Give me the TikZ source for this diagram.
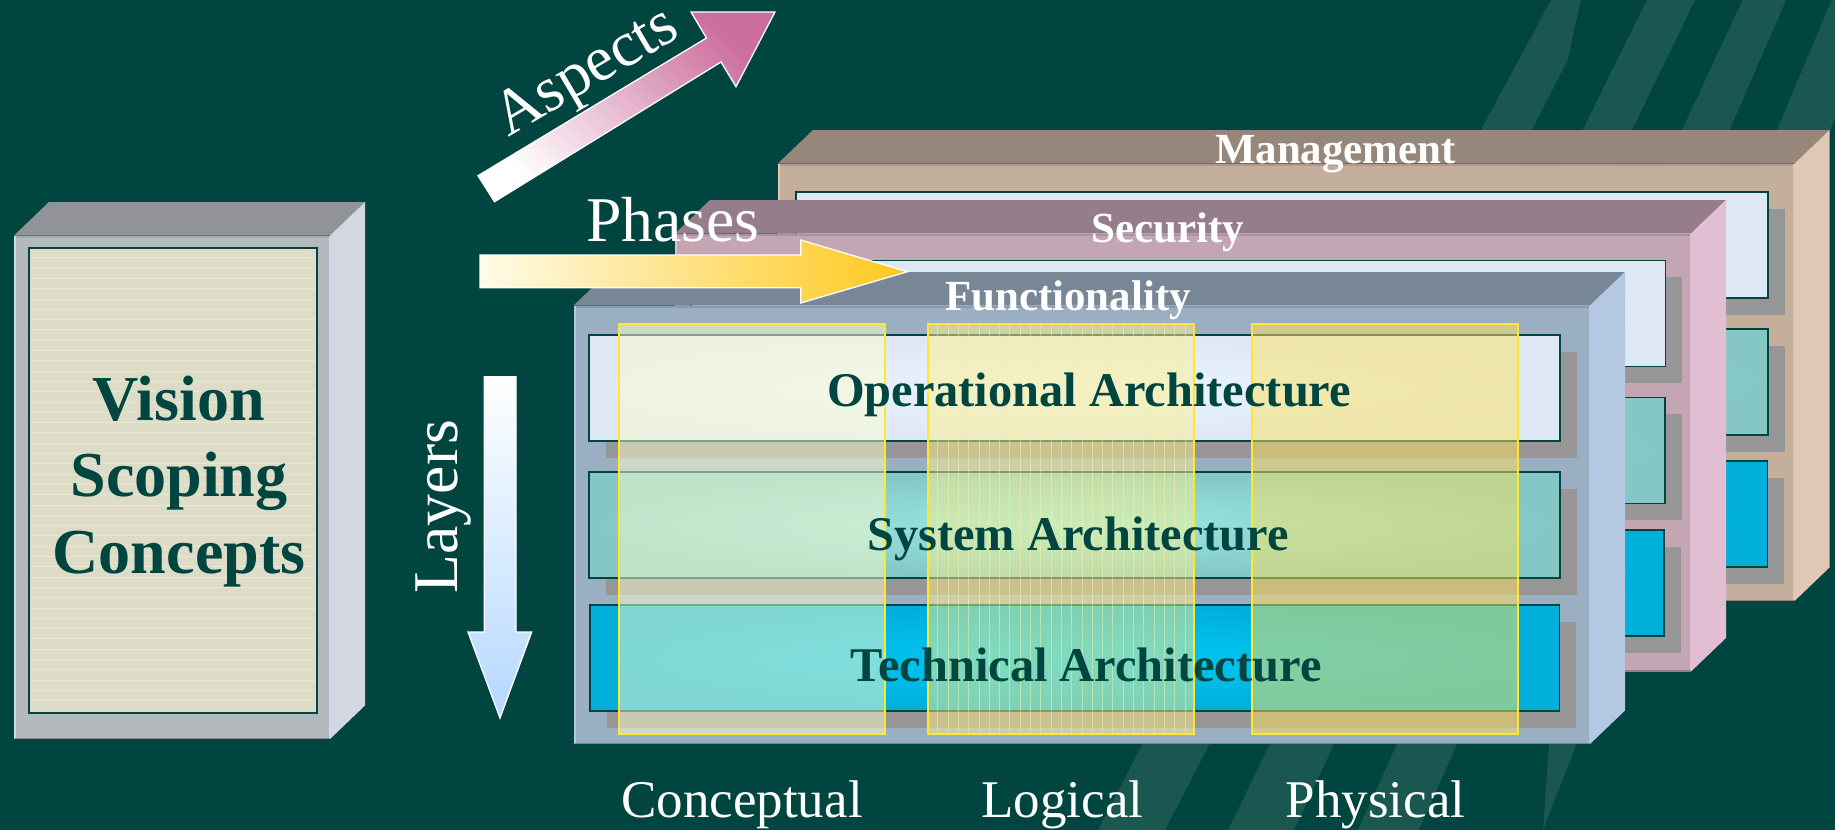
\documentclass[tikz,border=0pt]{standalone}
\usepackage{fontspec}
\setmainfont{Liberation Serif}
\definecolor{bgc}{HTML}{00453F}
\definecolor{stripec}{HTML}{1B5751}
\definecolor{barline}{HTML}{00443F}
\definecolor{shadowc}{HTML}{969696}
\definecolor{opE}{HTML}{DEE8F4}\definecolor{opC}{HTML}{E9F4FF}
\definecolor{syE}{HTML}{84C7C5}\definecolor{syC}{HTML}{98E8E2}
\definecolor{teE}{HTML}{00AFDA}\definecolor{teC}{HTML}{00C8F4}
\definecolor{colA}{HTML}{FFFFD0}\definecolor{colB}{HTML}{FFF08C}\definecolor{colC}{HTML}{FFE360}
\definecolor{colline}{HTML}{FFE632}\definecolor{colthin}{HTML}{FFF4B0}
\definecolor{bkT}{HTML}{919396}\definecolor{bkF}{HTML}{B4B9BE}\definecolor{bkS}{HTML}{D2D7E1}\definecolor{bkB}{HTML}{A5A9AE}\definecolor{bkD}{HTML}{85898C}
\definecolor{mgT}{HTML}{96877A}\definecolor{mgF}{HTML}{C3AF9B}\definecolor{mgS}{HTML}{E1C8B4}\definecolor{mgB}{HTML}{AD9A88}\definecolor{mgD}{HTML}{96877A}
\definecolor{seT}{HTML}{967D8C}\definecolor{seF}{HTML}{C3A5B4}\definecolor{seS}{HTML}{E1BED2}\definecolor{seB}{HTML}{AD92A0}\definecolor{seD}{HTML}{967D8C}
\definecolor{fuT}{HTML}{788796}\definecolor{fuF}{HTML}{9BAFC3}\definecolor{fuS}{HTML}{B4C8E1}\definecolor{fuB}{HTML}{8A9BAD}\definecolor{fuD}{HTML}{788796}
\definecolor{pageC}{HTML}{DCDCC8}\definecolor{pageL}{HTML}{F0ECC4}
\definecolor{pinkA}{HTML}{CC6E9D}\definecolor{goldA}{HTML}{FFC81E}\definecolor{creamA}{HTML}{FFFBE8}\definecolor{creamM}{HTML}{FFE8A0}\definecolor{blueA}{HTML}{B4D8FF}
\tikzset{
  lab/.style={inner sep=0pt,anchor=base,text=white},
  big/.style={lab,font=\fontsize{64}{70}\selectfont},
  mid/.style={lab,font=\fontsize{53.2}{60}\selectfont},
  head/.style={lab,font=\bfseries\fontsize{43.1}{50}\selectfont},
  arch/.style={inner sep=0pt,anchor=base,text=bgc,font=\bfseries\fontsize{48.6}{54}\selectfont},
  book/.style={inner sep=0pt,anchor=base,text=bgc,font=\bfseries\fontsize{64.3}{70}\selectfont},
  col/.style={draw=colline,line width=2bp,fill opacity=.5,draw opacity=1},
  arrowline/.style={draw=white,line width=1.3bp,line join=miter},
}
\newcommand\slab[9]{%
  \fill[#5] (#1,#2) -- (#1+35,#2-33.5) -- (#3+35,#2-33.5) -- (#3,#2) -- cycle;
  \fill[#7] (#3,#2) -- (#3+35,#2-33.5) -- (#3+35,#4-33.5) -- (#3,#4) -- cycle;
  \fill[#6] (#1,#2) rectangle (#3,#4);
  \fill[#8] (#1,#2) rectangle (#3,#2+2.5);
  \fill[#7] (#1,#2) rectangle (#1+2,#4);
  \fill[#7] (#3-1.5,#2) rectangle (#3,#4);
  \fill[#9] (#1+1,#4-1.5) rectangle (#3,#4);
}
\newcommand\slabbar[6]{%
  \fill[shadowc] (#1+16.5,#2+16.5) rectangle (#3+16.5,#4+16.5);
  \path[draw=barline,line width=1.5bp,inner color=#6,outer color=#5] (#1,#2) rectangle (#3,#4);
}
\begin{document}
\begin{tikzpicture}[x=1bp,y=-1bp]
\useasboundingbox (0,0) rectangle (1835,830);
\fill[bgc] (0,0) rectangle (1835,830);
% background stripes
\fill[stripec] (1551,0) -- (1580.6,0) -- (1567.6,60) -- (1532,130) -- (1209.5,744) -- (1165,830) -- (1098,830) -- (1142.6,744) -- (1481,130) -- cycle;
\fill[stripec] (1647,0) -- (1695,0) -- (1632,130) -- (1334,744) -- (1294,830) -- (1228,830) -- (1270,744) -- (1582.6,130) -- cycle;
\fill[stripec] (1742.5,0) -- (1786,0) -- (1729.6,130) -- (1457,744) -- (1419,830) -- (1358,830) -- (1397,744) -- (1682,130) -- cycle;
\fill[stripec] (1831.6,0) -- (1835,0) -- (1835,118) -- (1576.5,744) -- (1543,830) -- (1549,744) -- (1777,130) -- cycle;
% book
\slab{14}{235.5}{330}{739}{bkT}{bkF}{bkS}{bkB}{bkD}
\path[draw=barline,line width=1.5bp,fill=pageC] (29,248) rectangle (317,713);
\foreach \yy in {257.7,268,...,710}{\draw[pageL,line width=.7bp,opacity=.75] (30,\yy) -- (316,\yy);}
% management
\slab{778}{163.5}{1794.5}{601}{mgT}{mgF}{mgS}{mgB}{mgD}
\slabbar{796}{192}{1768}{298}{opE}{opC}
\slabbar{796}{329}{1768}{435}{syE}{syC}
\slabbar{796}{461}{1767.5}{567}{teE}{teC}
% security
\slab{675}{233.5}{1691}{671.5}{seT}{seF}{seS}{seB}{seD}
\slabbar{691}{260.5}{1665.5}{366.5}{opE}{opC}
\slabbar{691}{397.5}{1665}{503.5}{syE}{syC}
\slabbar{691}{530}{1664}{636}{teE}{teC}
% functionality
\slab{573.5}{305.5}{1590}{744}{fuT}{fuF}{fuS}{fuB}{fuD}
\slabbar{589}{335}{1560}{441}{opE}{opC}
\slabbar{589}{472}{1560}{578}{syE}{syC}
\slabbar{590}{605}{1559.5}{711}{teE}{teC}
% columns
\path[col,fill=colA] (618.5,324) rectangle (884.5,734);
\path[col,fill=colB] (927.5,324) rectangle (1193.5,734);
\foreach \xx in {937.8,948.1,...,1190}{\draw[colthin,opacity=.45,line width=.9bp] (\xx,324) -- (\xx,734);}
\path[col,fill=colC] (1251.5,324) rectangle (1517.5,734);
% arrows
\draw[arrowline,bottom color=white,top color=pinkA,shading angle=-45]
  (478,175.7) -- (706.5,38) -- (691,12) -- (775,12) -- (736,86.7) -- (721,62) -- (494.5,201.7) -- cycle;
\node[big] (phases) at (673,241.7) {Phases};
\draw[arrowline,left color=creamA,middle color=creamM,right color=goldA]
  (480,255) -- (800.7,255) -- (800.7,240) -- (907.4,271.7) -- (800.7,303) -- (800.7,287.7) -- (480,287.7) -- cycle;
\draw[arrowline,top color=white,bottom color=blueA]
  (484.3,376.7) -- (516,376.7) -- (516,632) -- (531.7,632) -- (500,718) -- (468,632) -- (484.3,632) -- cycle;
% labels
\node[big,anchor=base west,rotate=30.5] (aspects) at (508,138) {Aspects};
\node[big,anchor=base west,rotate=90] (layers) at (457,593.5) {Layers};
\node[mid] (concept) at (742,817.3) {Conceptual};
\node[mid] (logical) at (1062.5,817.3) {Logical};
\node[mid] (physical) at (1375.5,817.3) {Physical};
\node[head] (mgmt) at (1335.5,163.8) {Management};
\node[head] (secur) at (1167.5,242) {Security};
\node[head] (funct) at (1068,310.7) {Functionality};
\node[arch] (oper) at (1089,406.7) {Operational Architecture};
\node[arch] (syst) at (1078,550) {System Architecture};
\node[arch] (tech) at (1086,681.7) {Technical Architecture};
\node[book] (vis) at (179,420.7) {Vision};
\node[book] (sco) at (179,496.7) {Scoping};
\node[book] (con) at (179,573) {Concepts};
\end{tikzpicture}
\end{document}
